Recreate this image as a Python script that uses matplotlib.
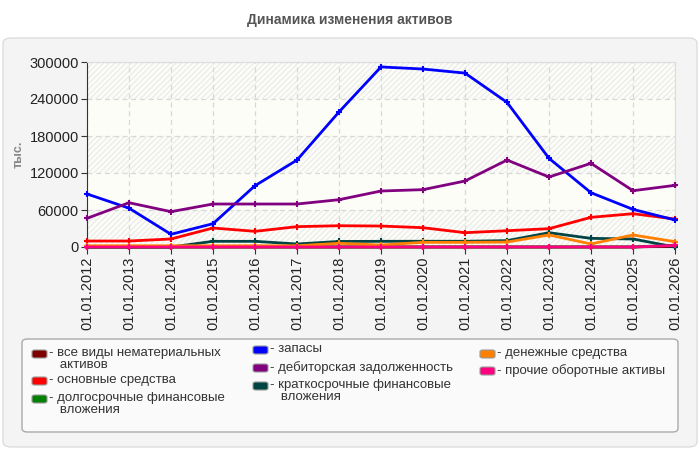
import numpy as np
import matplotlib.pyplot as plt
from matplotlib.patches import FancyBboxPatch, Rectangle

plt.rcParams['font.family'] = ['Liberation Sans', 'DejaVu Sans']

years = [f'01.01.{y}' for y in range(2012, 2027)]

intangible = [0, 0, 0, 0, 0, 0, 0, 0, 0, 0, 0, 0, 0, 0, 1500]
fixed_assets = [9700, 9700, 13000, 30800, 25400, 33000, 34500, 34000, 31300, 23200, 26400, 29700, 48100, 54000, 45400]
long_fin = [0, 0, 0, 0, 0, 0, 0, 0, 0, 0, 0, 0, 0, 0, 3000]
inventory = [86000, 63000, 20600, 37800, 99400, 141000, 219000, 292000, 288600, 282000, 234600, 143800, 88000, 61000, 43800]
receivables = [46500, 71800, 57300, 69700, 69700, 69700, 76700, 90800, 93000, 107000, 141000, 113500, 135700, 91300, 100000]
short_fin = [0, 0, 0, 9200, 9200, 4900, 9000, 9200, 9300, 9300, 10300, 23200, 14000, 13000, 0]
cash = [2000, 2000, 2000, 2000, 2000, 2000, 6000, 3200, 7600, 7600, 8000, 19500, 4900, 19500, 8600]
other_current = [0, 0, 0, 0, 0, 0, 0, 0, 0, 0, 0, 0, 0, 0, 2500]

series = [
    ('все виды нематериальных\nактивов', intangible, '#800000'),
    ('основные средства', fixed_assets, '#ff0000'),
    ('долгосрочные финансовые\nвложения', long_fin, '#008000'),
    ('запасы', inventory, '#0000ff'),
    ('дебиторская задолженность', receivables, '#800080'),
    ('краткосрочные финансовые\nвложения', short_fin, '#004444'),
    ('денежные средства', cash, '#ff8000'),
    ('прочие оборотные активы', other_current, '#ff0080'),
]

W, H = 700, 450
fig = plt.figure(figsize=(7, 4.5), dpi=100, facecolor='white')

# panel background
panel = FancyBboxPatch((3 / W, 3 / H), 694 / W, 409 / H, transform=fig.transFigure,
                       boxstyle='round,pad=0,rounding_size=0.012',
                       facecolor='#f4f4f4', edgecolor='#dddddd', linewidth=1, zorder=-10)
fig.patches.append(panel)

fig.text(0.5, 1 - 20 / H, 'Динамика изменения активов', ha='center', va='center',
         fontsize=10, fontweight='bold', color='#555555')

ax = fig.add_axes([87 / W, 1 - 247 / H, 588 / W, 185 / H])
ax.set_facecolor('#fdfdf8')
x = np.arange(len(years))
ax.set_xlim(0, len(years) - 1)
ax.set_ylim(0, 300000)

yt = np.arange(0, 300001, 60000)
for i in range(0, len(yt) - 1, 2):
    ax.add_patch(Rectangle((0, yt[i]), len(years) - 1, 60000, facecolor='none',
                           edgecolor='#ececec', hatch='//////', linewidth=0, zorder=0))

for label, vals, color in series:
    ax.plot(x, vals, color=color, lw=2, marker='+', markersize=5, mew=1.5, zorder=3,
            clip_on=False)

ax.set_xticks(x)
ax.set_xticklabels(years, rotation=90, fontsize=10.5, color='#222222')
ax.set_yticks(yt)
ax.set_yticklabels([str(v) for v in yt], fontsize=10.5, color='#222222')
ax.grid(True, color='#d8d8d8', linestyle=(0, (4, 3)), linewidth=0.9)
ax.set_axisbelow(True)
for s in ['top', 'right']:
    ax.spines[s].set_color('#dddddd')
ax.spines['left'].set_color('#333333')
ax.spines['bottom'].set_color('#333333')
ax.tick_params(axis='x', length=5, direction='out', color='#333333', pad=2)
ax.tick_params(axis='y', length=4, direction='out', color='#333333', pad=2)
ax.set_ylabel('тыс.', fontsize=9, fontweight='bold', color='#888888')
ax.yaxis.set_label_coords(-62 / 588, 0.5)

# legend box
leg = FancyBboxPatch((22 / W, 1 - 432 / H), 656 / W, 93 / H, transform=fig.transFigure,
                     boxstyle='round,pad=0,rounding_size=0.008',
                     facecolor='#fafafa', edgecolor='#aaaaaa', linewidth=1, zorder=1)
fig.patches.append(leg)

cols = [32, 253, 480]
rows = [[354, 381, 399], [350, 368, 386], [354, 371]]
k = 0
for c, col_rows in enumerate(rows):
    for r in col_rows:
        label, vals, color = series[k]
        sw = FancyBboxPatch((cols[c] / W, 1 - (r + 4) / H), 15 / W, 8 / H,
                            transform=fig.transFigure,
                            boxstyle='round,pad=0,rounding_size=0.004',
                            facecolor=color, edgecolor='#999999', linewidth=0.8, zorder=2)
        fig.patches.append(sw)
        fig.text((cols[c] + 17) / W, 1 - (r - 7) / H, '- ' + label.replace('\n', '\n   '),
                 ha='left', va='top', fontsize=9.5, color='#333333', linespacing=0.95)
        k += 1

fig.savefig('out.png', dpi=100)
